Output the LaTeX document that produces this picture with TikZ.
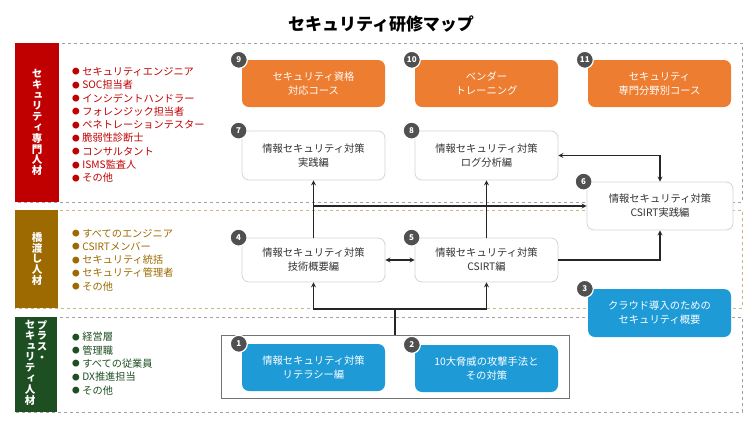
\documentclass[tikz,border=0pt]{standalone}
\usepackage{fontspec}
\usepackage{graphicx}
\setmainfont{Noto Sans CJK JP}
\newfontfamily\tatefont[RawFeature=+vert]{Noto Sans CJK JP}
\usetikzlibrary{positioning,calc,arrows,arrows.meta}

\definecolor{kuro}{HTML}{333333}
\definecolor{orng}{HTML}{ED7D31}
\definecolor{aoi}{HTML}{1E9BD7}
\definecolor{aka}{HTML}{C00000}
\definecolor{cha}{HTML}{9C6A00}
\definecolor{midori}{HTML}{1E4F22}
\definecolor{badgegray}{HTML}{505050}
\definecolor{waku}{HTML}{D4D4D4}
\definecolor{tensen}{HTML}{A0A0A0}
\definecolor{kitensen}{HTML}{C9B87A}

\newcommand{\dotmark}{\raisebox{.05em}{\scalebox{.75}{●}}\hspace{2.5pt}}

\begin{document}
\begin{tikzpicture}
	\begin{scope}[x=1pt, y=-1pt]
		\tikzstyle{every node}=[align=center, inner sep=0.2em]
		\tikzstyle{course}=[rounded corners=7pt, minimum width=143pt, minimum height=47pt, font=\fontsize{10.3}{14}\selectfont]
		\tikzstyle{adv}=[course, fill=orng, text=white]
		\tikzstyle{basic}=[course, fill=white, draw=waku, line width=0.8pt, text=kuro]
		\tikzstyle{intro}=[course, fill=aoi, text=white]
		\tikzstyle{badge}=[circle, fill=badgegray, draw=white, line width=1.2pt, minimum size=17pt, inner sep=0pt, text=white, font=\fontsize{8}{8}\selectfont\bfseries]
		\tikzstyle{tate}=[text=white, inner sep=0pt, font=\tatefont\fontsize{10.5}{10.8}\selectfont\bfseries]
		\tikzstyle{lst}=[anchor=west, align=left, inner sep=0pt, font=\fontsize{10.2}{13.3}\selectfont]
		\tikzstyle{conn}=[line width=1.2pt, black!85, >=stealth]

		\useasboundingbox (0, 0) rectangle (755, 424);

		\node[font=\fontsize{17}{20}\selectfont\bfseries] (title) at (381, 24) {セキュリティ研修マップ};

		% bands
		\draw [tensen, dashed, line width=0.6pt] (15, 43) rectangle (742, 202);
		\draw [kitensen, dashed, line width=0.6pt] (15, 210) rectangle (742, 308);
		\draw [tensen, dashed, line width=0.6pt] (15, 317) rectangle (742, 412);
		\fill [aka] (15, 43) rectangle (59, 202);
		\fill [cha] (15, 210) rectangle (58, 308);
		\fill [midori] (15, 317) rectangle (57, 412);

		\node[tate] (lab1) at (37, 122.5) {セ\\キ\\ュ\\リ\\テ\\ィ\\専\\門\\人\\材};
		\node[tate] (lab2) at (37, 259) {橋\\渡\\し\\人\\材};
		\node[tate, anchor=north] (lab3a) at (42, 320) {プ\\ラ\\ス\\・};
		\node[tate, anchor=north] (lab3b) at (30, 320) {セ\\キ\\ュ\\リ\\テ\\ィ\\人\\材};

		\node[lst, text=aka] (lst1) at (72, 125) {\dotmark セキュリティエンジニア\\ \dotmark SOC担当者\\ \dotmark インシデントハンドラー\\ \dotmark フォレンジック担当者\\ \dotmark ペネトレーションテスター\\ \dotmark 脆弱性診断士\\ \dotmark コンサルタント\\ \dotmark ISMS監査人\\ \dotmark その他};
		\node[lst, text=cha] (lst2) at (72, 260) {\dotmark すべてのエンジニア\\ \dotmark CSIRTメンバー\\ \dotmark セキュリティ統括\\ \dotmark セキュリティ管理者\\ \dotmark その他};
		\node[lst, text=midori] (lst3) at (72, 363.5) {\dotmark 経営層\\ \dotmark 管理職\\ \dotmark すべての従業員\\ \dotmark DX推進担当\\ \dotmark その他};

		% courses
		\node[adv] (n9)  at (313.5, 83.5) {セキュリティ資格\\対応コース};
		\node[adv] (n10) at (486.5, 83.5) {ベンダー\\トレーニング};
		\node[adv] (n11) at (659.5, 83.5) {セキュリティ\\専門分野別コース};

		\node[basic, minimum height=49pt] (n7) at (313.5, 155.5) {情報セキュリティ対策\\実践編};
		\node[basic, minimum height=49pt] (n8) at (486.5, 155.5) {情報セキュリティ対策\\ログ分析編};
		\node[basic, minimum width=146pt, minimum height=48pt] (n6) at (660, 206) {情報セキュリティ対策\\CSIRT実践編};
		\node[basic, minimum height=44pt] (n4) at (313.5, 260) {情報セキュリティ対策\\技術概要編};
		\node[basic, minimum height=44pt] (n5) at (486.5, 260) {情報セキュリティ対策\\CSIRT編};

		\node[intro, minimum height=48pt] (n3) at (659.5, 313) {クラウド導入のための\\セキュリティ概要};
		\node[draw=black!55, line width=0.8pt, minimum width=348pt, minimum height=63pt] (grp) at (395, 366.5) {};
		\node[intro] (n1) at (313.5, 367.5) {情報セキュリティ対策\\リテラシー編};
		\node[intro] (n2) at (486.5, 368.5) {10大脅威の攻撃手法と\\その対策};

		\foreach \n/\t in {n9/9, n10/10, n11/11, n7/7, n8/8, n6/6, n4/4, n5/5, n3/3, n1/1, n2/2}
			\node[badge] (b\t) at ([xshift=-3pt]\n.north west) {\t};

		% connectors
		\coordinate (j1) at (395, 309);
		\coordinate (j2) at (313.5, 206);

		\draw [conn] (grp) -- (j1);
		\draw [conn, ->] (j1) -| (n4);
		\draw [conn, ->] (j1) -| (n5);
		\draw [conn, ->] (n4) -- (n7);
		\draw [conn, ->] (j2) -- (n6);
		\draw [conn, ->] (n5) -- (n8);
		\draw [conn, <->] (n4) -- (n5);
		\draw [conn, ->] (n5) -| (n6);
		\draw [conn, <->] (n8) -| (n6);

	\end{scope}
\end{tikzpicture}
\end{document}
